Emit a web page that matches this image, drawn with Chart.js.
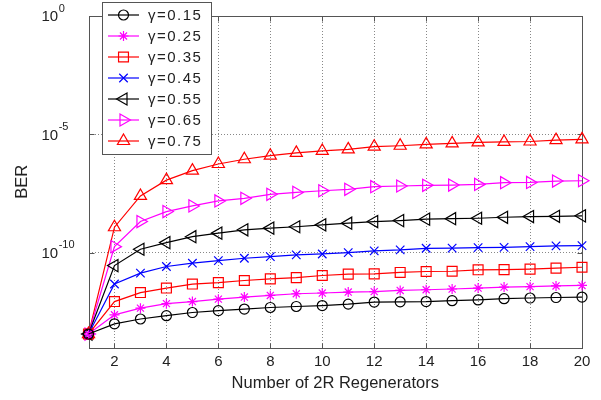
<!DOCTYPE html>
<html>
<head>
<meta charset="utf-8">
<script src="https://cdn.jsdelivr.net/npm/chart.js@4/dist/chart.umd.min.js"></script>
<style>
  html, body { margin: 0; padding: 0; background: #fff; }
</style>
</head>
<body>
<canvas id="berChart" width="601" height="400"></canvas>
<script>
// number of 2R regenerators (x axis)
const regenerators = [1, 2, 3, 4, 5, 6, 7, 8, 9, 10, 11, 12, 13, 14, 15, 16, 17, 18, 19, 20];

const gammaLabels = ['γ=0.15', 'γ=0.25', 'γ=0.35', 'γ=0.45', 'γ=0.55', 'γ=0.65', 'γ=0.75'];

// BER, one list per gamma
const ber015 = [3.7e-14, 1.0e-13, 1.6e-13, 2.2e-13, 3.0e-13, 3.6e-13, 4.2e-13, 4.9e-13, 5.4e-13, 5.9e-13,
                6.8e-13, 8.3e-13, 8.5e-13, 8.7e-13, 9.5e-13, 1.02e-12, 1.15e-12, 1.23e-12, 1.29e-12, 1.35e-12];
const ber025 = [3.7e-14, 2.4e-13, 4.6e-13, 7.1e-13, 8.7e-13, 1.1e-12, 1.35e-12, 1.58e-12, 1.86e-12, 2.0e-12,
                2.19e-12, 2.29e-12, 2.57e-12, 2.75e-12, 2.95e-12, 3.24e-12, 3.55e-12, 3.72e-12, 3.98e-12, 4.17e-12];
const ber035 = [3.7e-14, 8.7e-13, 2.09e-12, 3.24e-12, 4.79e-12, 5.5e-12, 6.76e-12, 7.94e-12, 8.91e-12, 1.1e-11,
                1.26e-11, 1.29e-11, 1.48e-11, 1.62e-11, 1.66e-11, 1.91e-11, 1.95e-11, 2.04e-11, 2.24e-11, 2.45e-11];
const ber045 = [3.7e-14, 4.79e-12, 1.38e-11, 2.63e-11, 3.63e-11, 4.68e-11, 5.89e-11, 6.92e-11, 8.13e-11, 8.91e-11,
                1.02e-10, 1.2e-10, 1.32e-10, 1.55e-10, 1.58e-10, 1.66e-10, 1.7e-10, 1.82e-10, 1.95e-10, 2.0e-10];
const ber055 = [3.7e-14, 2.88e-11, 1.41e-10, 2.69e-10, 4.79e-10, 6.76e-10, 9.33e-10, 1.1e-9, 1.26e-9, 1.51e-9,
                1.78e-9, 2.09e-9, 2.29e-9, 2.63e-9, 2.75e-9, 2.88e-9, 3.16e-9, 3.39e-9, 3.47e-9, 3.63e-9];
const ber065 = [3.7e-14, 1.82e-10, 2.09e-9, 5.5e-9, 9.55e-9, 1.55e-8, 2.0e-8, 2.95e-8, 3.55e-8, 4.17e-8,
                4.79e-8, 6.17e-8, 6.61e-8, 7.08e-8, 7.24e-8, 7.76e-8, 9.12e-8, 9.33e-8, 1.07e-7, 1.1e-7];
const ber075 = [3.7e-14, 1.2e-9, 2.51e-8, 1.17e-7, 2.95e-7, 5.62e-7, 8.91e-7, 1.26e-6, 1.66e-6, 2.0e-6,
                2.34e-6, 3.02e-6, 3.31e-6, 3.8e-6, 4.17e-6, 4.57e-6, 4.79e-6, 5.01e-6, 5.75e-6, 6.17e-6];

const xTickValues = [2, 4, 6, 8, 10, 12, 14, 16, 18, 20];
const yTickValues = [1, 1e-5, 1e-10];
const yTickExponents = ['0', '-5', '-10']; // drawn as 10^exp

const berSeries = [ber015, ber025, ber035, ber045, ber055, ber065, ber075];

// matlab-ish marker styles
const seriesStyles = [
    { color: '#000000', pointStyle: 'circle', radius: 5, rotation: 0 },
    { color: '#ff00ff', pointStyle: 'star', radius: 5, rotation: 0 },
    { color: '#ff0000', pointStyle: 'rect', radius: 7, rotation: 0 },
    { color: '#0000ff', pointStyle: 'crossRot', radius: 6, rotation: 0 },
    { color: '#000000', pointStyle: 'triangle', radius: 7, rotation: -90 },
    { color: '#ff00ff', pointStyle: 'triangle', radius: 7, rotation: 90 },
    { color: '#ff0000', pointStyle: 'triangle', radius: 7, rotation: 0 }
];

const FONT = '"Liberation Sans", Arial, sans-serif';

const datasets = berSeries.map((values, i) => ({
    label: gammaLabels[i],
    data: regenerators.map((n, k) => ({ x: n, y: values[k] })),
    borderColor: seriesStyles[i].color,
    borderWidth: 1.2,
    pointStyle: seriesStyles[i].pointStyle,
    pointRadius: seriesStyles[i].radius,
    pointRotation: seriesStyles[i].rotation,
    pointBorderColor: seriesStyles[i].color,
    pointBackgroundColor: 'rgba(0,0,0,0)',
    pointBorderWidth: 1.2,
    tension: 0,
    fill: false,
    clip: false
}));

// box, inward ticks, y tick labels with superscripts and the BER title
const framePlugin = {
    id: 'frame',
    beforeDatasetsDraw(chart) {
        const { ctx, chartArea: a, scales } = chart;
        const l = Math.round(a.left) + 0.5, r = Math.round(a.right) + 0.5;
        const t = Math.round(a.top) + 0.5, b = Math.round(a.bottom) + 0.5;
        ctx.save();
        ctx.strokeStyle = '#555';
        ctx.lineWidth = 1;
        ctx.strokeRect(l, t, r - l, b - t);
        ctx.beginPath();
        scales.x.ticks.forEach(tk => {
            const px = Math.round(scales.x.getPixelForValue(tk.value)) + 0.5;
            ctx.moveTo(px, b); ctx.lineTo(px, b - 5);
            ctx.moveTo(px, t); ctx.lineTo(px, t + 5);
        });
        scales.y.ticks.forEach(tk => {
            const py = Math.round(scales.y.getPixelForValue(tk.value)) + 0.5;
            ctx.moveTo(l, py); ctx.lineTo(l + 5, py);
            ctx.moveTo(r, py); ctx.lineTo(r - 5, py);
        });
        ctx.stroke();

        ctx.fillStyle = '#222';
        ctx.textAlign = 'left';
        ctx.textBaseline = 'middle';
        yTickValues.forEach((v, i) => {
            const py = scales.y.getPixelForValue(v);
            ctx.font = '15px ' + FONT;
            ctx.fillText('10', 41.5, py + 1);
            const w = ctx.measureText('10').width;
            ctx.font = '11px ' + FONT;
            ctx.fillText(yTickExponents[i], 41.5 + w + 0.5, py - 7.5);
        });

        ctx.font = '16.5px ' + FONT;
        ctx.textAlign = 'center';
        ctx.translate(22.5, (a.top + a.bottom) / 2);
        ctx.rotate(-Math.PI / 2);
        ctx.fillText('BER', 0, 0);
        ctx.restore();
    }
};

// legend box in the upper left corner
const legendPlugin = {
    id: 'boxLegend',
    afterDraw(chart) {
        const ctx = chart.ctx;
        ctx.save();
        ctx.fillStyle = '#fff';
        ctx.fillRect(102.5, 2.5, 109, 152);
        ctx.strokeStyle = '#555';
        ctx.lineWidth = 1;
        ctx.strokeRect(102.5, 2.5, 109, 152);
        chart.data.datasets.forEach((ds, i) => {
            const y = 15 + i * 21;
            const st = seriesStyles[i];
            ctx.strokeStyle = st.color;
            ctx.lineWidth = 1.2;
            ctx.beginPath();
            ctx.moveTo(108, y);
            ctx.lineTo(139, y);
            ctx.stroke();
            ctx.fillStyle = 'rgba(0,0,0,0)';
            Chart.helpers.drawPoint(ctx, {
                pointStyle: st.pointStyle, radius: st.radius, rotation: st.rotation, borderWidth: 1.2
            }, 123.5, y);
            ctx.fillStyle = '#222';
            ctx.font = '15px ' + FONT;
            ctx.letterSpacing = '1.5px';
            ctx.textAlign = 'left';
            ctx.textBaseline = 'middle';
            ctx.fillText(ds.label, 148, y + 1);
        });
        ctx.restore();
    }
};

new Chart(document.getElementById('berChart'), {
    type: 'line',
    data: { datasets: datasets },
    options: {
        responsive: false,
        animation: false,
        layout: { padding: { left: 41, top: 16, right: 19, bottom: 0 } },
        plugins: {
            legend: { display: false },
            tooltip: { enabled: false }
        },
        scales: {
            x: {
                type: 'linear',
                min: 1,
                max: 20,
                afterBuildTicks: scale => {
                    scale.ticks = xTickValues.map(v => ({ value: v }));
                },
                afterFit: scale => { scale.height = 52.5; },
                grid: { color: '#888', lineWidth: 1, drawTicks: false },
                border: { display: false, dash: [1, 2] },
                ticks: { color: '#222', font: { family: FONT, size: 15 }, padding: 5, maxRotation: 0 },
                title: {
                    display: true,
                    text: 'Number of 2R Regenerators',
                    color: '#222',
                    font: { family: FONT, size: 16.5 },
                    padding: { top: 0, bottom: 7 }
                }
            },
            y: {
                type: 'logarithmic',
                min: 1e-14,
                max: 1,
                afterBuildTicks: scale => {
                    scale.ticks = yTickValues.map(v => ({ value: v }));
                },
                afterFit: scale => { scale.width = 47.5; },
                grid: { color: '#888', lineWidth: 1, drawTicks: false },
                border: { display: false, dash: [1, 2] },
                ticks: { display: false }
            }
        }
    },
    plugins: [framePlugin, legendPlugin]
});
</script>
</body>
</html>
